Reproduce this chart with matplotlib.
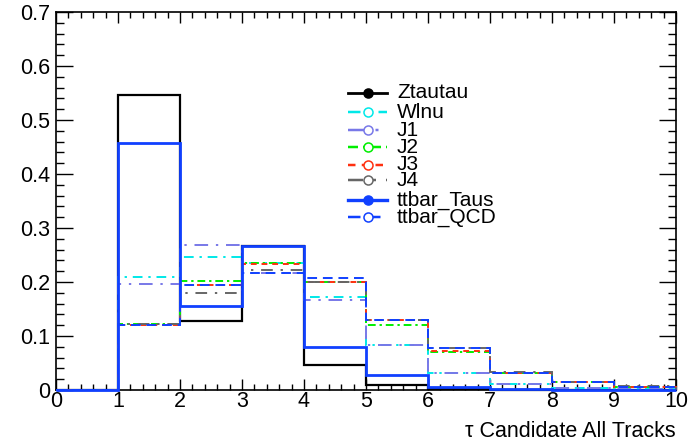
import numpy as np
import matplotlib
matplotlib.use('Agg')
import matplotlib.pyplot as plt
from matplotlib.ticker import MultipleLocator, FuncFormatter

plt.rcParams['font.family'] = ['Liberation Sans', 'DejaVu Sans']

# bin edges: number of tracks 0..10
edges = np.arange(0, 11)

# normalised track multiplicity per sample
ztautau    = [0, 0.546, 0.127, 0.266, 0.046, 0.009, 0.002, 0.0, 0.0, 0.0]
wlnu       = [0, 0.209, 0.246, 0.235, 0.173, 0.084, 0.032, 0.012, 0.004, 0.002]
j1         = [0, 0.196, 0.268, 0.217, 0.167, 0.084, 0.032, 0.012, 0.004, 0.002]
j2         = [0, 0.123, 0.202, 0.236, 0.200, 0.121, 0.070, 0.031, 0.014, 0.006]
j3         = [0, 0.121, 0.194, 0.234, 0.200, 0.130, 0.072, 0.032, 0.014, 0.006]
j4         = [0, 0.122, 0.180, 0.223, 0.200, 0.130, 0.077, 0.033, 0.015, 0.007]
ttbar_taus = [0, 0.458, 0.155, 0.266, 0.079, 0.027, 0.006, 0.001, 0.0, 0.0]
ttbar_qcd  = [0, 0.120, 0.194, 0.217, 0.207, 0.130, 0.077, 0.032, 0.014, 0.006]

names = ['Ztautau', 'Wlnu', 'J1', 'J2', 'J3', 'J4', 'ttbar_Taus', 'ttbar_QCD']
hists = [ztautau, wlnu, j1, j2, j3, j4, ttbar_taus, ttbar_qcd]

# (colour, linestyle, linewidth, filled marker)
styles = [
    ('black',   '-',                   1.6, True),
    ('#00e8e8', (0, (5, 3, 1.2, 3)),   1.4, False),
    ('#7878e8', (0, (7, 4, 1.2, 4)),   1.4, False),
    ('#00ee00', (0, (4, 2, 1.2, 2)),   1.4, False),
    ('#ff3010', (0, (3, 2.5)),         1.4, False),
    ('#666666', (0, (6, 4, 1.2, 4)),   1.4, False),
    ('#1040ff', '-',                   2.0, True),
    ('#1040ff', (0, (5, 3)),           1.4, False),
]

W, H = 696, 444
fig = plt.figure(figsize=(W / 100, H / 100), dpi=100)
ax = fig.add_axes([56 / W, 1 - 390 / H, 620 / W, 378 / H])

for vals, (col, ls, lw, filled) in zip(hists, styles):
    ax.stairs(vals, edges, color=col, linestyle=ls, linewidth=lw,
              baseline=0, clip_on=False, zorder=3)

ax.set_xlim(0, 10)
ax.set_ylim(0, 0.7)

ax.xaxis.set_major_locator(MultipleLocator(1))
ax.xaxis.set_minor_locator(MultipleLocator(0.2))
ax.yaxis.set_major_locator(MultipleLocator(0.1))
ax.yaxis.set_minor_locator(MultipleLocator(0.02))
ax.yaxis.set_major_formatter(FuncFormatter(lambda v, p: '0' if abs(v) < 1e-9 else '%.1f' % v))

ax.tick_params(axis='both', which='both', direction='in', top=True, right=True,
               labelsize=15.5, color='black')
ax.tick_params(axis='x', which='major', length=8, width=1, pad=1)
ax.tick_params(axis='x', which='minor', length=4, width=1)
ax.tick_params(axis='y', which='major', length=12, width=1, pad=4)
ax.tick_params(axis='y', which='minor', length=6, width=1)
for sp in ax.spines.values():
    sp.set_linewidth(1.2)

ax.set_xlabel('\u03c4 Candidate All Tracks', fontsize=15.5, loc='right', labelpad=6)

# legend drawn by hand in pixel positions
leg_y = [93, 112, 130, 147, 165, 180, 200, 217]
for name, y, (col, ls, lw, filled) in zip(names, leg_y, styles):
    fy = 1 - y / H
    fig.add_artist(plt.Line2D([348 / W, 387 / W], [fy, fy], color=col,
                              linestyle=ls, linewidth=lw + 0.4))
    fig.add_artist(plt.Line2D([368 / W], [fy], marker='o', markersize=6.5,
                              markerfacecolor=col if filled else 'white',
                              markeredgecolor=col, markeredgewidth=1.1,
                              linestyle='none'))
    fig.text(397 / W, fy, name, fontsize=15, va='center', ha='left')

fig.savefig('out.png', dpi=100)
